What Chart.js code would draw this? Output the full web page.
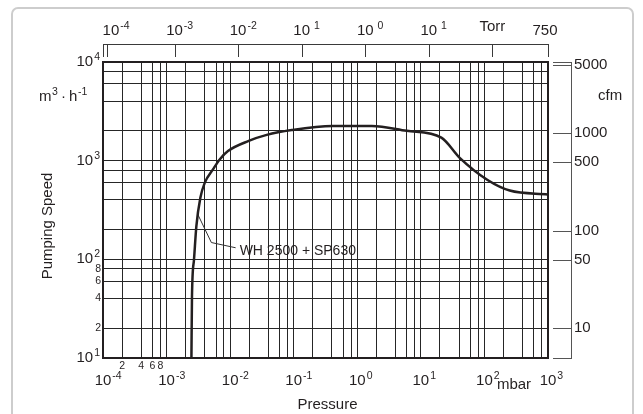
<!DOCTYPE html>
<html>
<head>
<meta charset="utf-8">
<script src="https://cdn.jsdelivr.net/npm/chart.js@4.4.1/dist/chart.umd.min.js"></script>
<style>
  html, body { margin: 0; padding: 0; background: #fff; }
  #wrap { position: relative; width: 643px; height: 414px; overflow: hidden; }
  #card { position: absolute; left: 11px; top: 7px; width: 619px; height: 440px;
          border: 2px solid #cdcdcd; border-radius: 7px; }
  canvas { position: absolute; left: 0; top: 0; }
</style>
</head>
<body>
<div id="wrap">
  <div id="card"></div>
  <canvas id="speed-chart" width="643" height="414"></canvas>
</div>
<script>
// Pumping curve, pressure in mbar, speed in m3/h
const pressureMbar = [2.46e-3, 2.51e-3, 2.70e-3, 2.94e-3, 3.40e-3, 3.98e-3, 5.37e-3, 6.85e-3,
                      9.25e-3, 1.96e-2, 3.76e-2, 9.3e-2, 0.41, 1.69, 5.98, 21, 40.8, 112, 250, 1000];
const speedM3h = [10, 42, 99, 216, 420, 596, 815, 1028,
                  1250, 1585, 1824, 2043, 2245, 2245, 2005, 1710, 1069, 637, 498, 455];

// leader line from the curve to the label
const leaderMbar = [3.11e-3, 5.07e-3, 1.22e-2];
const leaderSpeed = [284, 148, 131];
const curveLabel = 'WH 2500 + SP630';

// bottom axis (mbar)
const mbarDecades = [1e-4, 1e-3, 1e-2, 1e-1, 1, 10, 100, 1000];
const mbarExps = ['-4', '-3', '-2', '-1', '0', '1', '2', '3'];
const mbarMinor = [2e-4, 4e-4, 6e-4, 8e-4];
const mbarMinorLabels = ['2', '4', '6', '8'];

// left axis (m3/h)
const speedDecades = [10, 100, 1000, 10000];
const speedExps = ['1', '2', '3', '4'];
const speedMinor = [20, 40, 60, 80];
const speedMinorLabels = ['2', '4', '6', '8'];

// top axis (Torr)
const torrTicks = [1e-3, 1e-2, 1e-1, 1, 10, 100];
const torrLabelValues = [1e-4, 1e-3, 1e-2, 1e-1, 1, 10];
const torrExps = ['-4', '-3', '-2', ' 1', ' 0', ' 1'];

// right axis (cfm)
const cfmTicks = [5000, 1000, 500, 100, 50, 10];

const ink = '#231f20';
const FONT = '"Liberation Sans", Arial, sans-serif';
const BIG = '15px ' + FONT;
const SMALL = '10.5px ' + FONT;

// grid at 1, 2, 4, 6, 8 of every decade
function logGrid(from, to) {
    const out = [];
    for (let d = from; d < to; d *= 10) {
        [1, 2, 4, 6, 8].forEach(m => out.push({ value: d * m }));
    }
    out.push({ value: to });
    return out;
}

function drawPower(ctx, exp, x, y, anchor) {
    ctx.font = BIG;
    const wb = ctx.measureText('10').width;
    ctx.font = SMALL;
    const we = ctx.measureText(exp).width;
    const left = anchor === 'right' ? x - wb - we - 1 : x - wb / 2;
    ctx.textAlign = 'left';
    ctx.textBaseline = 'middle';
    ctx.font = BIG;
    ctx.fillText('10', left, y);
    ctx.font = SMALL;
    ctx.fillText(exp, left + wb + 1, y - 5);
}

const axisDecor = {
    id: 'axisDecor',
    afterDraw(chart) {
        const { ctx, chartArea: a, scales } = chart;
        const { x, y, x2, y2 } = scales;
        ctx.save();
        ctx.fillStyle = ink;
        ctx.strokeStyle = ink;

        // plot frame
        ctx.lineWidth = 2;
        ctx.strokeRect(a.left, a.top, a.right - a.left, a.bottom - a.top);

        // top Torr axis
        const topY = a.top - 18;
        ctx.lineWidth = 1;
        ctx.strokeStyle = '#3a3a3a';
        ctx.beginPath();
        ctx.moveTo(a.left + 1, topY + 0.5);
        ctx.lineTo(a.right, topY + 0.5);
        [x2.min, x2.max].concat(torrTicks).forEach(v => {
            const px = Math.round(x2.getPixelForValue(v)) + 0.5;
            ctx.moveTo(px, topY);
            ctx.lineTo(px, a.top - 5);
        });
        ctx.moveTo(a.left + 4.5, topY);
        ctx.lineTo(a.left + 4.5, a.top - 5);
        ctx.stroke();
        torrLabelValues.forEach((v, i) => drawPower(ctx, torrExps[i], x2.getPixelForValue(v), 31, 'center'));
        ctx.font = BIG;
        ctx.textAlign = 'center';
        ctx.textBaseline = 'middle';
        ctx.fillText('Torr', x2.getPixelForValue(100), 27);
        ctx.fillText('750', x2.getPixelForValue(750) - 3, 31);

        // right cfm axis
        const rightX = a.right + 23;
        ctx.strokeStyle = '#555';
        ctx.beginPath();
        ctx.moveTo(rightX + 0.5, a.top);
        ctx.lineTo(rightX + 0.5, a.bottom);
        [y2.max, y2.min].concat(cfmTicks).forEach(v => {
            const py = Math.round(y2.getPixelForValue(v)) + 0.5;
            ctx.moveTo(a.right + 5, py);
            ctx.lineTo(rightX + 1, py);
        });
        ctx.stroke();
        ctx.textAlign = 'left';
        cfmTicks.forEach(v => ctx.fillText(String(v), rightX + 3, y2.getPixelForValue(v)));
        ctx.fillText('cfm', rightX + 27, 96);

        // left axis labels
        speedDecades.forEach((v, i) => drawPower(ctx, speedExps[i], a.left - 3, y.getPixelForValue(v), 'right'));
        ctx.font = SMALL;
        ctx.textAlign = 'right';
        speedMinor.forEach((v, i) => ctx.fillText(speedMinorLabels[i], a.left - 2, y.getPixelForValue(v)));

        // units and title on the left
        ctx.textAlign = 'left';
        ctx.font = BIG;
        ctx.fillText('m', 39, 97);
        ctx.font = SMALL;
        ctx.fillText('3', 52, 92);
        ctx.font = BIG;
        ctx.fillText('·', 61, 97);
        ctx.fillText('h', 69, 97);
        ctx.font = SMALL;
        ctx.fillText('-1', 78, 92);

        ctx.save();
        ctx.translate(48, 226);
        ctx.rotate(-Math.PI / 2);
        ctx.font = BIG;
        ctx.textAlign = 'center';
        ctx.fillText('Pumping Speed', 0, 0);
        ctx.restore();

        // bottom axis labels
        mbarDecades.forEach((v, i) => drawPower(ctx, mbarExps[i], x.getPixelForValue(v), a.bottom + 23, 'center'));
        ctx.font = SMALL;
        ctx.textAlign = 'center';
        mbarMinor.forEach((v, i) => ctx.fillText(mbarMinorLabels[i], x.getPixelForValue(v), a.bottom + 8));
        ctx.font = BIG;
        ctx.fillText('mbar', a.right - 34, a.bottom + 27);
        ctx.fillText('Pressure', (a.left + a.right) / 2 + 2, 405);

        // curve label at the end of the leader
        const lx = x.getPixelForValue(leaderMbar[leaderMbar.length - 1]);
        const ly = y.getPixelForValue(leaderSpeed[leaderSpeed.length - 1]);
        ctx.textAlign = 'left';
        ctx.font = '14px ' + FONT;
        ctx.fillText(curveLabel, lx + 4, ly + 3);

        ctx.restore();
    }
};

const ctx = document.getElementById('speed-chart').getContext('2d');
new Chart(ctx, {
    type: 'line',
    data: {
        datasets: [
            {
                data: pressureMbar.map((p, i) => ({ x: p, y: speedM3h[i] })),
                borderColor: ink,
                borderWidth: 2.5,
                pointRadius: 0,
                cubicInterpolationMode: 'monotone',
                fill: false
            },
            {
                data: leaderMbar.map((p, i) => ({ x: p, y: leaderSpeed[i] })),
                borderColor: '#333',
                borderWidth: 1,
                pointRadius: 0,
                tension: 0,
                fill: false
            }
        ]
    },
    options: {
        responsive: false,
        animation: false,
        devicePixelRatio: 1,
        events: [],
        layout: { padding: { left: 103, right: 95, top: 62, bottom: 56 } },
        plugins: { legend: { display: false }, tooltip: { enabled: false } },
        scales: {
            x: {
                type: 'logarithmic',
                position: 'bottom',
                min: 1e-4,
                max: 1e3,
                afterBuildTicks: scale => { scale.ticks = logGrid(1e-4, 1e3); },
                ticks: { display: false },
                grid: { color: '#262626', lineWidth: 1, drawTicks: false },
                border: { display: false }
            },
            y: {
                type: 'logarithmic',
                position: 'left',
                min: 10,
                max: 1e4,
                afterBuildTicks: scale => { scale.ticks = logGrid(10, 1e4); },
                ticks: { display: false },
                grid: { color: '#262626', lineWidth: 1, drawTicks: false },
                border: { display: false }
            },
            x2: {
                type: 'logarithmic',
                position: 'top',
                display: false,
                min: 1e-4 / 1.33322,
                max: 750
            },
            y2: {
                type: 'logarithmic',
                position: 'right',
                display: false,
                min: 4.96,
                max: 5320
            }
        }
    },
    plugins: [axisDecor]
});
</script>
</body>
</html>
